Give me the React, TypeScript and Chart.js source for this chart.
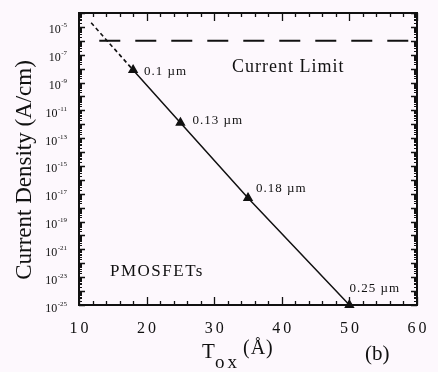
import React, { useEffect, useRef } from "react";
import { Chart, registerables } from "chart.js";

Chart.register(...registerables);

// ---- data ----
const nodeLabels = ["0.1 µm", "0.13 µm", "0.18 µm", "0.25 µm"];
const toxValues = [18, 25, 35, 50];
const densityValues = [8e-9, 1.3e-12, 5e-18, 1e-25];
const extrapTox = [11.8, 18];
const extrapDensity = [2e-5, 8e-9];
const limitTox = [13, 60];
const limitDensity = [1e-6, 1e-6];
const xTickValues = [10, 20, 30, 40, 50, 60];
const yTickExponents = [-5, -7, -9, -11, -13, -15, -17, -19, -21, -23, -25];
const xMin = 10;
const xMax = 60;
const yMin = 1e-25;
const yMax = 1e-4;
const limitText = "Current Limit";
const deviceText = "PMOSFETs";
const yTitle = "Current Density (A/cm)";
const panelText = "(b)";

// ---- style ----
const BG = "#fdf8fd";
const INK = "#111111";
const SERIF = '"Liberation Serif", "Times New Roman", serif';
const labelOffsets: [number, number][] = [
  [11, 5],
  [12, 1],
  [8, -6],
  [0, -13],
];

const overlayPlugin = {
  id: "overlay",
  beforeDraw(chart: any) {
    const ctx = chart.ctx;
    ctx.save();
    ctx.fillStyle = BG;
    ctx.fillRect(0, 0, chart.width, chart.height);
    ctx.restore();
  },
  afterDraw(chart: any) {
    const ctx = chart.ctx;
    const ca = chart.chartArea;
    const xs = chart.scales.x;
    const ys = chart.scales.y;
    ctx.save();
    ctx.strokeStyle = INK;
    ctx.fillStyle = INK;

    // frame
    ctx.lineWidth = 2;
    ctx.strokeRect(ca.left, ca.top, ca.right - ca.left, ca.bottom - ca.top);

    // x ticks (inward, bottom and top)
    ctx.lineWidth = 1.3;
    for (let v = xMin; v <= xMax; v += 2) {
      const x = Math.round(xs.getPixelForValue(v)) + 0.5;
      const len = v % 10 === 0 ? 8 : 4;
      ctx.beginPath();
      ctx.moveTo(x, ca.bottom);
      ctx.lineTo(x, ca.bottom - len);
      ctx.moveTo(x, ca.top);
      ctx.lineTo(x, ca.top + len);
      ctx.stroke();
    }
    // y ticks (inward, left and right)
    const eLo = Math.round(Math.log10(yMin));
    const eHi = Math.round(Math.log10(yMax));
    for (let e = eLo; e <= eHi; e++) {
      for (let m = 1; m <= 9; m++) {
        const val = m * Math.pow(10, e);
        if (val < yMin || val > yMax) continue;
        const y = Math.round(ys.getPixelForValue(val)) + 0.5;
        const len = m === 1 ? 6 : 3;
        ctx.lineWidth = m === 1 ? 1.6 : 1.1;
        ctx.beginPath();
        ctx.moveTo(ca.left, y);
        ctx.lineTo(ca.left + len, y);
        ctx.moveTo(ca.right, y);
        ctx.lineTo(ca.right - len, y);
        ctx.stroke();
      }
    }

    // x tick labels
    ctx.font = `16px ${SERIF}`;
    ctx.textAlign = "center";
    ctx.textBaseline = "alphabetic";
    (ctx as any).letterSpacing = "3px";
    for (const v of xTickValues) {
      ctx.fillText(String(v), xs.getPixelForValue(v) + 1.5, 333);
    }
    (ctx as any).letterSpacing = "0px";

    // y tick labels 10^exp
    for (const e of yTickExponents) {
      const y = ys.getPixelForValue(Math.pow(10, e));
      const expStr = "-" + Math.abs(e);
      ctx.font = `7px ${SERIF}`;
      const ew = ctx.measureText(expStr).width;
      const right = ca.left - 12;
      ctx.textAlign = "left";
      ctx.fillText(expStr, right - ew, y + 0.5);
      ctx.font = `12px ${SERIF}`;
      ctx.textAlign = "right";
      ctx.fillText("10", right - ew - 0.5, y + 6.5);
    }

    // point labels
    ctx.font = `13px ${SERIF}`;
    ctx.textAlign = "left";
    (ctx as any).letterSpacing = "1px";
    nodeLabels.forEach((t, i) => {
      const px = xs.getPixelForValue(toxValues[i]);
      const py = ys.getPixelForValue(densityValues[i]);
      ctx.fillText(t, px + labelOffsets[i][0], py + labelOffsets[i][1]);
    });

    // annotations
    ctx.font = `18px ${SERIF}`;
    (ctx as any).letterSpacing = "1px";
    ctx.fillText(limitText, 232, 72);
    ctx.font = `17px ${SERIF}`;
    (ctx as any).letterSpacing = "1.5px";
    ctx.fillText(deviceText, 110, 276);
    (ctx as any).letterSpacing = "0px";

    // x title T_ox (Å)
    ctx.font = `21px ${SERIF}`;
    ctx.fillText("T", 202, 358);
    ctx.font = `19px ${SERIF}`;
    (ctx as any).letterSpacing = "3px";
    ctx.fillText("ox", 215, 368);
    (ctx as any).letterSpacing = "1px";
    ctx.font = `20px ${SERIF}`;
    ctx.fillText("(Å)", 243, 354);
    (ctx as any).letterSpacing = "0px";

    // panel label
    ctx.font = `21px ${SERIF}`;
    ctx.fillText(panelText, 365, 360);

    // y title
    ctx.save();
    ctx.translate(25, 170);
    ctx.rotate(-Math.PI / 2);
    ctx.font = `23px ${SERIF}`;
    ctx.textAlign = "center";
    ctx.textBaseline = "middle";
    ctx.fillText(yTitle, 0, 0);
    ctx.restore();

    ctx.restore();
  },
};

export default function App() {
  const canvasRef = useRef<HTMLCanvasElement | null>(null);

  useEffect(() => {
    document.body.style.margin = "0";
    document.body.style.background = BG;
    const canvas = canvasRef.current;
    if (!canvas) return;
    const chart = new Chart(canvas, {
      type: "line",
      data: {
        datasets: [
          {
            label: "trend",
            data: toxValues.map((x, i) => ({ x, y: densityValues[i] })),
            borderColor: INK,
            backgroundColor: INK,
            borderWidth: 1.5,
            pointStyle: "triangle",
            pointRadius: 4.5,
            pointBackgroundColor: INK,
            pointBorderColor: INK,
            tension: 0,
            clip: false as any,
          },
          {
            label: "extrapolation",
            data: extrapTox.map((x, i) => ({ x, y: extrapDensity[i] })),
            borderColor: INK,
            borderWidth: 1.6,
            borderDash: [4, 3],
            pointRadius: 0,
            tension: 0,
          },
          {
            label: "limit",
            data: limitTox.map((x, i) => ({ x, y: limitDensity[i] })),
            borderColor: INK,
            borderWidth: 2,
            borderDash: [21, 15],
            pointRadius: 0,
            tension: 0,
          },
        ],
      },
      options: {
        responsive: false,
        animation: false,
        devicePixelRatio: 1,
        layout: { padding: { top: 13, right: 21, left: 0, bottom: 0 } },
        plugins: { legend: { display: false }, tooltip: { enabled: false } },
        scales: {
          x: {
            type: "linear",
            min: xMin,
            max: xMax,
            grid: { display: false },
            border: { display: false },
            ticks: { display: false },
            afterFit: (s: any) => {
              s.height = 67;
            },
          },
          y: {
            type: "logarithmic",
            min: yMin,
            max: yMax,
            grid: { display: false },
            border: { display: false },
            ticks: { display: false },
            afterFit: (s: any) => {
              s.width = 79;
            },
          },
        },
      },
      plugins: [overlayPlugin],
    });
    return () => chart.destroy();
  }, []);

  return (
    <div style={{ position: "fixed", left: 0, top: 0, width: 438, height: 372, background: BG }}>
      <canvas ref={canvasRef} width={438} height={372} />
    </div>
  );
}
